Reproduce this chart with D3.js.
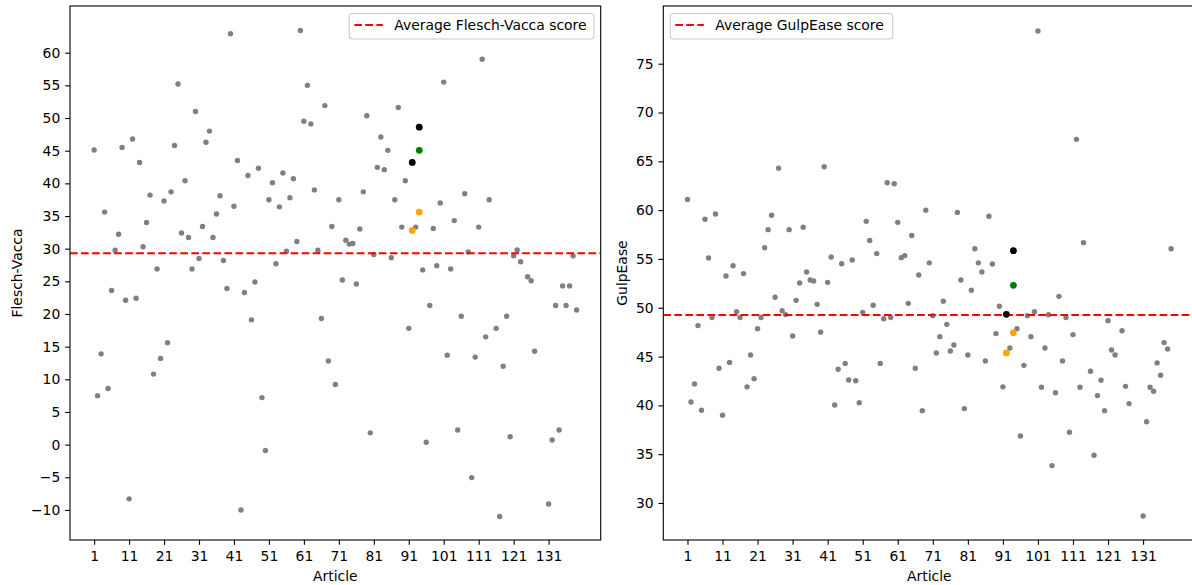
<!DOCTYPE html>
<html>
<head>
<meta charset="utf-8">
<script src="https://cdn.jsdelivr.net/npm/d3@7"></script>
<style>
  html, body { margin: 0; padding: 0; background: #fff; }
  svg { display: block; font-family: "DejaVu Sans", sans-serif; }
</style>
</head>
<body>
<svg id="chart" width="1192" height="585"></svg>
<script>
// ---- Data (article number = position in array + 1; null = no score) ----
const fleschVacca = [
  45.1, 7.5, 13.9, 35.6, 8.6, 23.6, 29.75, 32.2, 45.5, 22.1,
  -8.3, 46.8, 22.4, 43.2, 30.3, 34.0, 38.2, 10.8, 26.9, 13.2,
  37.3, 15.6, 38.7, 45.8, 55.2, 32.4, 40.4, 31.7, 26.9, 51.0,
  28.5, 33.4, 46.3, 48.0, 31.7, 35.3, 38.1, 28.2, 23.9, 62.9,
  36.5, 43.5, -10.0, 23.3, 41.2, 19.1, 24.9, 42.3, 7.2, -0.9,
  37.5, 40.1, 27.7, 36.4, 41.6, 29.6, 37.8, 40.7, 31.1, 63.4,
  49.5, 55.0, 49.1, 39.0, 29.75, 19.3, 51.9, 12.8, 33.4, 9.2,
  37.5, 25.2, 31.3, 30.7, 30.8, 24.6, 33.0, 38.7, 50.35, 1.8,
  29.1, 42.45, 47.1, 42.1, 45.05, 28.6, 37.5, 51.6, 33.3, 40.4,
  17.8, null, 33.3, null, 26.75, 0.36, 21.3, 33.1, 27.4, 37.0,
  55.5, 13.7, 26.9, 34.3, 2.25, 19.65, 38.4, 29.5, -5.05, 13.4,
  33.3, 59.0, 16.5, 37.5, null, 17.8, -11.0, 12.0, 19.65, 1.2,
  28.9, 29.8, 28.0, null, 25.7, 25.1, 14.3, null, null, null,
  -9.1, 0.7, 21.3, 2.25, 24.3, 21.3, 24.3, 28.9, 20.6
];
const gulpEase = [
  61.1, 40.35, 42.2, 48.17, 39.5, 59.06, 55.1, 49.0, 59.6, 43.8,
  39.0, 53.25, 44.4, 54.3, 49.6, 49.0, 53.5, 41.9, 45.16, 42.74,
  47.86, 49.0, 56.15, 58.0, 59.47, 51.07, 64.3, 49.7, 49.3, 58.0,
  47.1, 50.76, 52.54, 58.24, 53.67, 52.84, 52.74, 50.35, 47.5, 64.45,
  52.6, 55.2, 40.04, 43.7, 54.5, 44.3, 42.6, 54.9, 42.53, 40.28,
  49.53, 58.85, 56.9, 50.25, 55.54, 44.3, 48.88, 62.8, 49.0, 62.7,
  58.75, 55.13, 55.34, 50.45, 57.4, 43.8, 53.36, 39.46, 60.0, 54.6,
  49.19, 45.37, 47.04, 50.66, 48.3, 45.57, 46.19, 59.77, 52.84, 39.67,
  45.16, 51.8, 56.04, 54.6, 53.66, 44.55, 59.37, 54.48, 47.35, 50.15,
  41.9, null, 45.88, null, 47.86, 36.87, 44.1, 49.19, 47.04, 49.6,
  78.35, 41.85, 45.88, 49.29, 33.83, 41.3, 51.17, 44.55, 48.99, 37.24,
  47.25, 67.25, 41.85, 56.67, null, 43.49, 34.89, 41.0, 42.57, 39.46,
  48.68, 45.68, 45.16, null, 47.65, 41.95, 40.18, null, null, null,
  28.67, 38.33, 41.85, 41.44, 44.35, 43.08, 46.43, 45.78, 56.05
];
// highlighted articles
const highlightArticles = [92, 94];
const fvBlack  = [43.2, 48.6];
const fvGreen  = [null, 45.05];
const fvOrange = [32.8, 35.6];
const geBlack  = [49.33, 55.85];
const geGreen  = [null, 52.3];
const geOrange = [45.37, 47.45];

const avgFleschVacca = 29.3;
const avgGulpEase = 49.25;

const xTickValues = [1, 11, 21, 31, 41, 51, 61, 71, 81, 91, 101, 111, 121, 131];
const fvTicks = [-10, -5, 0, 5, 10, 15, 20, 25, 30, 35, 40, 45, 50, 55, 60];
const geTicks = [30, 35, 40, 45, 50, 55, 60, 65, 70, 75];

// ---- Drawing ----
const svg = d3.select("#chart");
const FS = 13.9;
const fmt = d3.format("");

function panel(opts) {
  const { left, right, top, bottom, xDomain, yDomain, values, yTicks,
          black, green, orange, avg, yLabel, yLabelX, legendText, legendBox } = opts;
  const x = d3.scaleLinear().domain(xDomain).range([left, right]);
  const y = d3.scaleLinear().domain(yDomain).range([bottom, top]);
  const g = svg.append("g");

  const clipId = "clip" + Math.round(left);
  svg.append("clipPath").attr("id", clipId)
    .append("rect").attr("x", left).attr("y", top)
    .attr("width", right - left).attr("height", bottom - top);

  const plot = g.append("g").attr("clip-path", `url(#${clipId})`);

  // grey points
  const pts = values.map((v, i) => ({ a: i + 1, v })).filter(d => d.v !== null);
  plot.selectAll("circle.grey").data(pts).enter().append("circle")
    .attr("class", "grey")
    .attr("cx", d => x(d.a)).attr("cy", d => y(d.v)).attr("r", 2.7)
    .attr("fill", "#808080");

  // average line
  plot.append("line")
    .attr("x1", left).attr("x2", right)
    .attr("y1", y(avg)).attr("y2", y(avg))
    .attr("stroke", "#ff0000").attr("stroke-width", 2.08)
    .attr("stroke-dasharray", "7.7,3.33");

  // highlighted points
  const hl = (arr, color) => {
    const d = highlightArticles.map((a, i) => ({ a, v: arr[i] })).filter(p => p.v !== null);
    plot.selectAll(null).data(d).enter().append("circle")
      .attr("cx", p => x(p.a)).attr("cy", p => y(p.v)).attr("r", 3.4)
      .attr("fill", color);
  };
  hl(orange, "#ffa500");
  hl(green, "#008000");
  hl(black, "#000000");

  // axes
  const xAxis = d3.axisBottom(x).tickValues(xTickValues).tickFormat(fmt)
    .tickSizeInner(4.86).tickSizeOuter(0).tickPadding(4.86);
  const yAxis = d3.axisLeft(y).tickValues(yTicks).tickFormat(d3.format(""))
    .tickSizeInner(4.86).tickSizeOuter(0).tickPadding(4.86);

  const gx = g.append("g").attr("transform", `translate(0,${bottom})`).call(xAxis);
  const gy = g.append("g").attr("transform", `translate(${left},0)`).call(yAxis);
  [gx, gy].forEach(a => {
    a.select(".domain").remove();
    a.selectAll(".tick line").attr("stroke", "#000").attr("stroke-width", 1.1);
    a.selectAll(".tick text").attr("fill", "#000")
      .style("font-size", FS + "px").style("font-family", "DejaVu Sans");
  });
  gx.selectAll(".tick text").attr("dy", null).attr("y", 21);
  gx.selectAll(".tick text").attr("dominant-baseline", "auto");

  // spines
  g.append("rect").attr("x", left).attr("y", top)
    .attr("width", right - left).attr("height", bottom - top)
    .attr("fill", "none").attr("stroke", "#000").attr("stroke-width", 1.1);

  // axis labels
  g.append("text").attr("x", (left + right) / 2).attr("y", 581)
    .attr("text-anchor", "middle").style("font-size", FS + "px").text("Article");
  g.append("text")
    .attr("transform", `translate(${yLabelX},${(top + bottom) / 2}) rotate(-90)`)
    .attr("text-anchor", "middle").style("font-size", FS + "px").text(yLabel);

  // legend
  const lg = g.append("g");
  lg.append("rect").attr("x", legendBox[0]).attr("y", 13.5)
    .attr("width", legendBox[1] - legendBox[0]).attr("height", 25.5)
    .attr("rx", 3).attr("ry", 3)
    .attr("fill", "#fff").attr("fill-opacity", 0.8)
    .attr("stroke", "#cccccc").attr("stroke-width", 1.1);
  lg.append("line")
    .attr("x1", legendBox[0] + 5).attr("x2", legendBox[0] + 33.5)
    .attr("y1", 25).attr("y2", 25)
    .attr("stroke", "#ff0000").attr("stroke-width", 2.08)
    .attr("stroke-dasharray", "7.7,3.33");
  lg.append("text").attr("x", legendBox[0] + 45).attr("y", 30)
    .style("font-size", FS + "px").attr("fill", "#000").text(legendText);
}

panel({
  left: 70, right: 600.7, top: 6, bottom: 540,
  xDomain: [-5.9, 145.9], yDomain: [-14.6, 67.15],
  values: fleschVacca, yTicks: fvTicks,
  black: fvBlack, green: fvGreen, orange: fvOrange,
  avg: avgFleschVacca, yLabel: "Flesch-Vacca", yLabelX: 22,
  legendText: "Average Flesch-Vacca score", legendBox: [349.3, 594]
});
panel({
  left: 663.3, right: 1195.3, top: 6, bottom: 540,
  xDomain: [-5.9, 145.9], yDomain: [26.21, 80.91],
  values: gulpEase, yTicks: geTicks,
  black: geBlack, green: geGreen, orange: geOrange,
  avg: avgGulpEase, yLabel: "GulpEase", yLabelX: 627,
  legendText: "Average GulpEase score", legendBox: [670.3, 892.7]
});
</script>
</body>
</html>
